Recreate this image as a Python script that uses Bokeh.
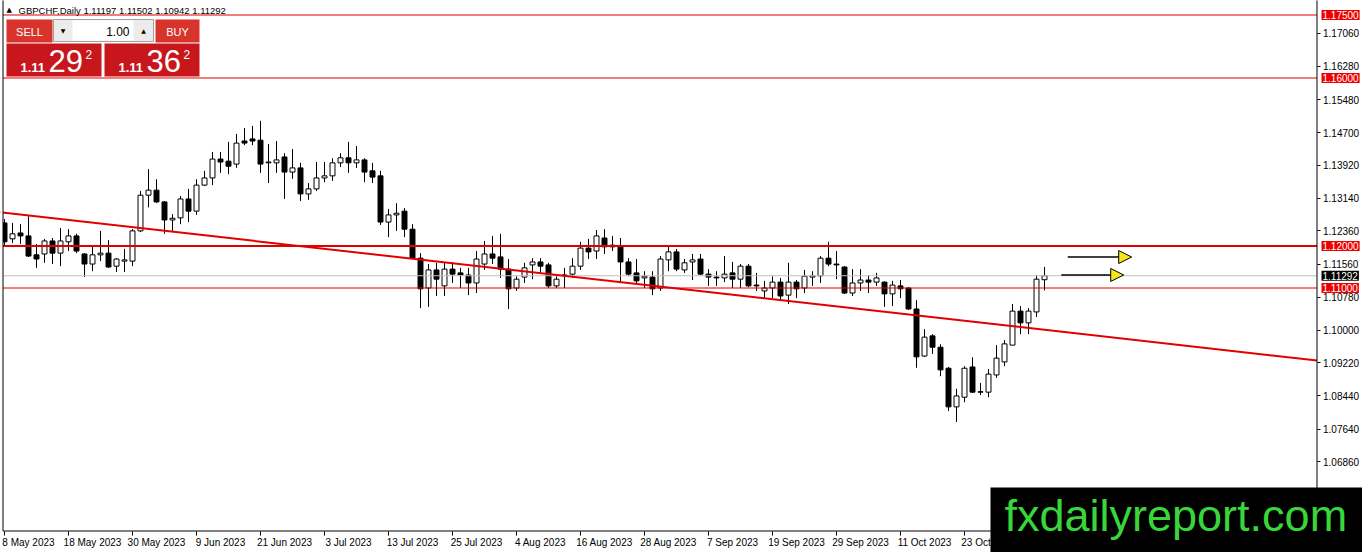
import numpy as np
from bokeh.plotting import figure
from bokeh.models import (Range1d, FixedTicker, PrintfTickFormatter, Span, Slope, Label,
                          BoxAnnotation, Arrow, NormalHead, ColumnDataSource, LinearAxis)
from bokeh.embed import file_html
from bokeh.resources import INLINE

# ---------------- data ----------------
header_text = "GBPCHF,Daily  1.11197 1.11502 1.10942 1.11292"

opens = [1.1255, 1.1217, 1.1231, 1.1224, 1.1179, 1.1181, 1.1212, 1.1183, 1.1210, 1.1224,
         1.1181, 1.1157, 1.1179, 1.1183, 1.1152, 1.1164, 1.1164, 1.1236, 1.1321, 1.1333,
         1.1305, 1.1262, 1.1267, 1.1312, 1.1283, 1.1345, 1.1362, 1.1407, 1.1402, 1.1395,
         1.1450, 1.1455, 1.1452, 1.1398, 1.1398, 1.1412, 1.1376, 1.1386, 1.1324, 1.1336,
         1.1362, 1.1367, 1.1398, 1.1410, 1.1398, 1.1405, 1.1379, 1.1367, 1.1257, 1.1274,
         1.1283, 1.1240, 1.1171, 1.1100, 1.1143, 1.1105, 1.1145, 1.1136, 1.1131, 1.1112,
         1.1157, 1.1181, 1.1174, 1.1145, 1.1100, 1.1126, 1.1155, 1.1162, 1.1155, 1.1105,
         1.1129, 1.1133, 1.1152, 1.1195, 1.1188, 1.1219, 1.1198, 1.1200, 1.1162, 1.1136,
         1.1124, 1.1126, 1.1100, 1.1167, 1.1186, 1.1143, 1.1162, 1.1169, 1.1133, 1.1126,
         1.1124, 1.1136, 1.1121, 1.1152, 1.1107, 1.1093, 1.1100, 1.1114, 1.1083, 1.1114,
         1.1100, 1.1126, 1.1129, 1.1171, 1.1157, 1.1150, 1.1088, 1.1112, 1.1119, 1.1114,
         1.1114, 1.1086, 1.1105, 1.1100, 1.1050, 1.0938, 1.0986, 1.0959, 1.0909, 1.0817,
         1.0840, 1.0912, 1.0853, 1.0852, 1.0893, 1.0924, 1.0964, 1.1045, 1.1017, 1.1043,
         1.11197]
highs = [1.1264, 1.1255, 1.1252, 1.1271, 1.1205, 1.1217, 1.1219, 1.1243, 1.1240, 1.1229,
         1.1183, 1.1200, 1.1236, 1.1214, 1.1171, 1.1193, 1.1240, 1.1331, 1.1383, 1.1359,
         1.1307, 1.1276, 1.1319, 1.1336, 1.1359, 1.1379, 1.1424, 1.1424, 1.1448, 1.1467,
         1.1481, 1.1486, 1.1498, 1.1443, 1.1450, 1.1421, 1.1431, 1.1398, 1.1350, 1.1400,
         1.1400, 1.1409, 1.1421, 1.1448, 1.1438, 1.1409, 1.1398, 1.1379, 1.1288, 1.1302,
         1.1290, 1.1252, 1.1183, 1.1157, 1.1160, 1.1160, 1.1162, 1.1148, 1.1148, 1.1188,
         1.1212, 1.1224, 1.1229, 1.1169, 1.1128, 1.1160, 1.1171, 1.1171, 1.1160, 1.1128,
         1.1148, 1.1171, 1.1210, 1.1217, 1.1238, 1.1240, 1.1224, 1.1219, 1.1171, 1.1169,
         1.1140, 1.1140, 1.1176, 1.1202, 1.1193, 1.1169, 1.1181, 1.1181, 1.1145, 1.1140,
         1.1176, 1.1162, 1.1157, 1.1157, 1.1136, 1.1117, 1.1128, 1.1124, 1.1160, 1.1119,
         1.1143, 1.1140, 1.1176, 1.1210, 1.1188, 1.1152, 1.1145, 1.1145, 1.1131, 1.1136,
         1.1116, 1.1117, 1.1119, 1.1102, 1.1071, 1.1002, 1.0990, 1.0966, 1.0912, 1.0860,
         1.0914, 1.0935, 1.0874, 1.0907, 1.0964, 1.0976, 1.1062, 1.1057, 1.1052, 1.1131,
         1.11502]
lows = [1.1200, 1.1207, 1.1205, 1.1174, 1.1148, 1.1160, 1.1157, 1.1152, 1.1188, 1.1183,
        1.1126, 1.1140, 1.1164, 1.1148, 1.1138, 1.1138, 1.1152, 1.1233, 1.1292, 1.1302,
        1.1229, 1.1233, 1.1252, 1.1257, 1.1274, 1.1343, 1.1345, 1.1374, 1.1371, 1.1386,
        1.1440, 1.1440, 1.1374, 1.1350, 1.1374, 1.1312, 1.1360, 1.1307, 1.1310, 1.1331,
        1.1352, 1.1355, 1.1388, 1.1374, 1.1386, 1.1352, 1.1350, 1.1250, 1.1221, 1.1236,
        1.1221, 1.1169, 1.1052, 1.1055, 1.1081, 1.1081, 1.1112, 1.1100, 1.1083, 1.1088,
        1.1143, 1.1157, 1.1124, 1.1050, 1.1093, 1.1112, 1.1121, 1.1136, 1.1100, 1.1100,
        1.1100, 1.1124, 1.1143, 1.1169, 1.1169, 1.1181, 1.1188, 1.1112, 1.1128, 1.1112,
        1.1100, 1.1083, 1.1093, 1.1140, 1.1140, 1.1136, 1.1119, 1.1131, 1.1105, 1.1105,
        1.1114, 1.1100, 1.1100, 1.1102, 1.1093, 1.1076, 1.1076, 1.1069, 1.1062, 1.1076,
        1.1088, 1.1105, 1.1112, 1.1152, 1.1121, 1.1086, 1.1081, 1.1093, 1.1088, 1.1105,
        1.1055, 1.1057, 1.1076, 1.1048, 1.0910, 1.0936, 1.0943, 1.0890, 1.0807, 1.0781,
        1.0828, 1.0850, 1.0845, 1.0840, 1.0886, 1.0914, 1.0964, 1.0990, 1.0990, 1.1031,
        1.10942]
closes = [1.1210, 1.1229, 1.1224, 1.1176, 1.1169, 1.1212, 1.1183, 1.1212, 1.1224, 1.1188,
          1.1157, 1.1179, 1.1183, 1.1150, 1.1169, 1.1167, 1.1236, 1.1321, 1.1333, 1.1305,
          1.1262, 1.1266, 1.1312, 1.1283, 1.1345, 1.1362, 1.1407, 1.1400, 1.1390, 1.1445,
          1.1445, 1.1450, 1.1395, 1.1400, 1.1405, 1.1376, 1.1386, 1.1324, 1.1336, 1.1362,
          1.1367, 1.1398, 1.1410, 1.1398, 1.1405, 1.1376, 1.1364, 1.1257, 1.1274, 1.1278,
          1.1240, 1.1171, 1.1098, 1.1143, 1.1121, 1.1145, 1.1133, 1.1131, 1.1112, 1.1169,
          1.1181, 1.1171, 1.1145, 1.1098, 1.1121, 1.1148, 1.1162, 1.1152, 1.1105, 1.1121,
          1.1131, 1.1152, 1.1195, 1.1186, 1.1224, 1.1198, 1.1202, 1.1162, 1.1133, 1.1117,
          1.1128, 1.1098, 1.1169, 1.1186, 1.1145, 1.1160, 1.1167, 1.1133, 1.1126, 1.1124,
          1.1133, 1.1121, 1.1152, 1.1105, 1.1105, 1.1100, 1.1114, 1.1081, 1.1114, 1.1098,
          1.1128, 1.1129, 1.1171, 1.1157, 1.1155, 1.1088, 1.1112, 1.1119, 1.1114, 1.1124,
          1.1086, 1.1107, 1.1098, 1.1050, 1.0936, 1.0983, 1.0959, 1.0905, 1.0817, 1.0843,
          1.0909, 1.0852, 1.0852, 1.0895, 1.0933, 1.0967, 1.1045, 1.1017, 1.1045, 1.1121,
          1.11292]

date_labels = ["8 May 2023", "18 May 2023", "30 May 2023", "9 Jun 2023", "21 Jun 2023",
               "3 Jul 2023", "13 Jul 2023", "25 Jul 2023", "4 Aug 2023", "16 Aug 2023",
               "28 Aug 2023", "7 Sep 2023", "19 Sep 2023", "29 Sep 2023", "11 Oct 2023",
               "23 Oct 2023", "2 Nov 2023"]
date_step = 8

price_ticks = [1.17060, 1.16280, 1.15480, 1.14700, 1.13920, 1.13140, 1.12360, 1.11560,
               1.10780, 1.10000, 1.09220, 1.08440, 1.07640, 1.06860, 1.06080]
level_prices = [1.17500, 1.16000, 1.12000, 1.11000]
level_widths = [1, 1, 2, 1]
bid_price = 1.11292

trend_bars = [0, 126]
trend_prices = [1.1279, 1.1009]

arrow_y = [1.11738, 1.11310]
arrow_x0 = [132.9, 132.1]
arrow_x1 = [140.9, 139.9]

lot_text = "1.00"
sell_quote = ["1.11", "29", "2"]
buy_quote = ["1.11", "36", "2"]
watermark = "fxdailyreport.com"

# ---------------- geometry (page pixels) ----------------
W, H = 1362, 552
PXB = 8.0                        # pixels per bar
PPP = 0.065 / 273.0              # price per pixel
X_START = -4 / PXB               # bar 0 at x = 4 px
X_END = X_START + W / PXB
Y_TOP = 1.175 + 14.5 * PPP       # 1.17500 at y = 14.5 px
Y_BOT = Y_TOP - H * PPP
FR_L, FR_R, FR_B = 2.5, 1316.5, 530.5   # chart window edges


def dx(px):
    return X_START + px / PXB


def dy(py):
    return Y_TOP - py * PPP


RED = "#e00000"

p = figure(frame_width=W, frame_height=H, min_border=0,
           min_border_left=0, min_border_right=0, min_border_top=0, min_border_bottom=0,
           x_range=Range1d(X_START, X_END), y_range=Range1d(Y_BOT, Y_TOP),
           x_axis_location=None, y_axis_location=None,
           output_backend="svg", toolbar_location=None, title=None,
           background_fill_color="white", border_fill_color="white")
p.outline_line_color = None
p.grid.visible = False

# levels and trendline
for lp, lw in zip(level_prices, level_widths):
    p.add_layout(Span(location=lp, dimension="width", line_color=RED, line_width=lw, level="image"))
p.add_layout(Span(location=bid_price, dimension="width", line_color="#c0c0c0", line_width=1, level="image"))
grad = (trend_prices[1] - trend_prices[0]) / (trend_bars[1] - trend_bars[0])
p.add_layout(Slope(gradient=grad, y_intercept=trend_prices[0] - grad * trend_bars[0],
                   line_color=RED, line_width=2, level="image"))

# candles
n = len(opens)
o = np.array(opens); c = np.array(closes)
src = ColumnDataSource(dict(
    idx=np.arange(n), high=highs, low=lows,
    top=np.maximum(o, c), bottom=np.minimum(o, c),
    fill=["white" if cc >= oo else "black" for oo, cc in zip(opens, closes)],
))
r1 = p.segment(x0="idx", y0="low", x1="idx", y1="high", source=src, line_color="black", line_width=1)
r2 = p.vbar(x="idx", top="top", bottom="bottom", width=0.62, source=src,
            fill_color="fill", line_color="black", line_width=1)
r1.level = "image"
r2.level = "image"


def box(l, t, r, b, fill, line=None, level="annotation", lw=1):
    p.add_layout(BoxAnnotation(left=dx(l), right=dx(r), top=dy(t), bottom=dy(b),
                               fill_color=fill, fill_alpha=1.0 if fill else 0.0,
                               line_color=line, line_alpha=1.0, line_width=lw, level=level))


def txt(x, y, s, size, color="white", align="left", baseline="middle", bold=False,
        font="Liberation Sans", **kw):
    p.add_layout(Label(x=dx(x), y=dy(y), text=s, text_font_size=f"{size}px", text_color=color,
                       text_align=align, text_baseline=baseline, text_font=font,
                       text_font_style="bold" if bold else "normal", level="overlay", **kw))


# white margins outside the chart window (price scale and time scale areas)
box(FR_R, -5, W + 5, H + 5, "white", level="underlay")
box(-5, FR_B, W + 5, H + 5, "white", level="underlay")
box(-5, -5, FR_L, H + 5, "white", level="underlay")
# chart window border
box(FR_L, -2, FR_R, FR_B, None, line="black", level="underlay")

# time axis
bar_ticks = [i * date_step for i in range(len(date_labels))]
lab_ticks = [b + 3 for b in bar_ticks]
xa = LinearAxis(fixed_location=dy(FR_B))
xa.ticker = FixedTicker(ticks=lab_ticks, minor_ticks=bar_ticks)
xa.major_label_overrides = {t: s for t, s in zip(lab_ticks, date_labels)}
xa.major_tick_out = 0
xa.major_tick_in = 0
xa.minor_tick_out = 4
xa.minor_tick_in = 0
xa.minor_tick_line_color = "black"
xa.major_label_standoff = 2
xa.major_label_text_font = "Liberation Sans"
xa.major_label_text_font_size = "10px"
xa.major_label_text_color = "black"
xa.axis_line_color = None
p.add_layout(xa, "below")

# price axis
ya = LinearAxis(fixed_location=dx(FR_R))
ya.ticker = FixedTicker(ticks=price_ticks, minor_ticks=[])
ya.formatter = PrintfTickFormatter(format="%.5f")
ya.major_tick_out = 3
ya.major_tick_in = 0
ya.major_tick_line_color = "black"
ya.major_label_standoff = 3
ya.major_label_text_font = "Liberation Sans"
ya.major_label_text_font_size = "10px"
ya.major_label_text_color = "black"
ya.axis_line_color = None
p.add_layout(ya, "right")

# price tags on the axis
for lp in level_prices:
    p.add_layout(Label(x=dx(1321), y=lp, text=f"{lp:.5f}", text_color="white",
                       text_font="Liberation Sans", text_font_size="10px",
                       text_baseline="middle", background_fill_color="#ee0000",
                       padding=1, level="overlay"))
p.add_layout(Label(x=dx(1321), y=bid_price, text=f"{bid_price:.5f}", text_color="white",
                   text_font="Liberation Sans", text_font_size="10px",
                   text_baseline="middle", background_fill_color="black",
                   padding=1, level="overlay"))

# arrows
for x0, x1, yy in zip(arrow_x0, arrow_x1, arrow_y):
    p.add_layout(Arrow(x_start=x0, y_start=yy, x_end=x1, y_end=yy, line_color="black", line_width=1.5,
                       end=NormalHead(size=13, fill_color="#f5e51b", line_color="black", line_width=1)))

# header
txt(6, 9, "\u25b2", 7, color="black", font="DejaVu Sans")
txt(18, 9.5, header_text, 9.5, color="black")

# trade panel
box(6, 19, 52, 42, "#d8342b")
txt(29, 31, "SELL", 11, align="center")
box(53, 19, 153, 41, "#ececec", "#a0a0a0")
box(72, 20, 133, 40, "white")
txt(62.5, 30, "\u25bc", 6, color="black", align="center", font="DejaVu Sans")
txt(143, 30, "\u25b2", 6, color="black", align="center", font="DejaVu Sans")
txt(129, 31, lot_text, 12, color="black", align="right")
box(155, 19, 199, 42, "#d8342b")
txt(177, 31, "BUY", 11, align="center")
box(6, 43, 101, 76, "#c8171c")
box(104, 43, 199, 76, "#c8171c")
for x0, q in ((20, sell_quote), (118, buy_quote)):
    txt(x0, 66.5, q[0], 13, bold=True)
    txt(x0 + 28, 60.5, q[1], 31)
    txt(x0 + 65, 53.5, q[2], 12)

# watermark
box(990, 487, W + 5, H + 5, "black", level="overlay")
txt(1004, 515, watermark, 45, color="#39d63a")

open("out.html", "w").write(file_html(p, INLINE))
